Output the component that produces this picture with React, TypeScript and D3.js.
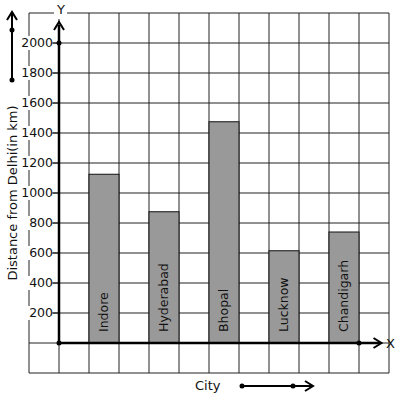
import React from 'react';
import * as d3 from 'd3';

const cities = ['Indore', 'Hyderabad', 'Bhopal', 'Lucknow', 'Chandigarh'];
const distances = [1125, 875, 1475, 615, 740];
const yTicks = [200, 400, 600, 800, 1000, 1200, 1400, 1600, 1800, 2000];

const W = 397;
const H = 399;
const font = '"DejaVu Sans", Verdana, sans-serif';

// chevron arrow head (open) pointing in direction (dx, dy)
const chevron = (x: number, y: number, dx: number, dy: number, len = 8, half = 5) => {
    const px = -dy, py = dx;
    const bx = x - dx * len, by = y - dy * len;
    return `M${bx + px * half},${by + py * half}L${x},${y}L${bx - px * half},${by - py * half}`;
};

const App = () => {
    // grid scales: one square = 30px, 200 km per square
    const gx = d3.scaleLinear().domain([-1, 11]).range([29, 389]);
    const y = d3.scaleLinear().domain([-200, 2200]).range([373, 13]);
    const x = d3.scaleBand<string>()
        .domain(cities)
        .range([gx(0), gx(11)])
        .paddingInner(0.5)
        .paddingOuter(0.5);

    const gridX = d3.range(-1, 12).map(d => gx(d));
    const gridY = d3.range(-200, 2201, 200).map(d => y(d));
    const x0 = gx(0);
    const y0 = y(0);

    return (
        <svg width={W} height={H} style={{ position: 'absolute', left: 0, top: 0, background: '#fff' }}
            fontFamily={font}>
            {/* grid */}
            <g stroke="#222" strokeWidth={1}>
                {gridX.map((gxv, i) => (
                    <line key={'v' + i} x1={gxv} x2={gxv} y1={y(2200)} y2={y(-200)} />
                ))}
                {gridY.map((gyv, i) => (
                    <line key={'h' + i} x1={gx(-1)} x2={gx(11)} y1={gyv} y2={gyv} />
                ))}
            </g>

            {/* bars */}
            {cities.map((c, i) => (
                <g key={c}>
                    <rect x={x(c)} y={y(distances[i])} width={x.bandwidth()} height={y0 - y(distances[i])}
                        fill="#999" stroke="#111" strokeWidth={1} />
                    <text transform={`translate(${x(c)! + x.bandwidth() / 2 + 4},${y0 - 11}) rotate(-90)`}
                        fontSize={12.5} fill="#111">{c}</text>
                </g>
            ))}

            {/* y tick labels */}
            {yTicks.map(t => (
                <g key={t}>
                    <rect x={x0 - 38} y={y(t) - 7} width={31} height={14} fill="#fff" />
                    <line x1={x0 - 6} x2={x0} y1={y(t)} y2={y(t)} stroke="#111" strokeWidth={1} />
                    <text x={x0 - 6} y={y(t)} dy="0.35em" textAnchor="end" fontSize={12.5} fill="#111">{t}</text>
                </g>
            ))}

            {/* axes */}
            <g stroke="#000" strokeWidth={2.5} fill="none">
                <line x1={x0} x2={x0} y1={y0} y2={y(2120)} />
                <path d={chevron(x0, y(2140), 0, -1)} strokeWidth={2} />
                <line x1={x0} x2={gx(10.7)} y1={y0} y2={y0} />
                <path d={chevron(gx(10.75), y0, 1, 0)} strokeWidth={2} />
            </g>
            <circle cx={x0} cy={y(2000)} r={2.5} fill="#000" />
            <circle cx={x0} cy={y0} r={2.5} fill="#000" />
            <circle cx={gx(10)} cy={y0} r={2.5} fill="#000" />

            {/* axis letters */}
            <rect x={x0 - 5} y={y(2200) - 8} width={13} height={14} fill="#fff" />
            <text x={x0 + 2} y={y(2200)} dy="0.1em" textAnchor="middle" fontSize={13} fill="#111">Y</text>
            <text x={gx(10.8) + 3} y={y0} dy="0.35em" fontSize={13} fill="#111">X</text>

            {/* y title */}
            <text transform={`translate(17,${y(1000)}) rotate(-90)`} textAnchor="middle" fontSize={13}
                fill="#111">Distance from Delhi(in km)</text>

            {/* left arrow */}
            <g stroke="#000" strokeWidth={2} fill="none">
                <line x1={12} x2={12} y1={80} y2={13} />
                <path d={chevron(12, 12, 0, -1)} />
            </g>
            <circle cx={12} cy={30} r={2.5} fill="#000" />
            <circle cx={12} cy={80} r={2.5} fill="#000" />

            {/* x title */}
            <text x={195} y={390} fontSize={13} fill="#111">City</text>
            <g stroke="#000" strokeWidth={2} fill="none">
                <line x1={242} x2={312} y1={386} y2={386} />
                <path d={chevron(313, 386, 1, 0)} />
            </g>
            <circle cx={242} cy={386} r={2.5} fill="#000" />
            <circle cx={293} cy={386} r={2.5} fill="#000" />
        </svg>
    );
};

export default App;
